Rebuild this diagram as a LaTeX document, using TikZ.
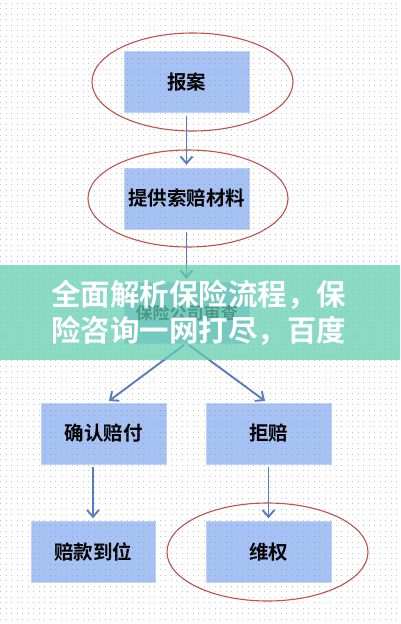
\documentclass[tikz,border=0pt]{standalone}
\usepackage{fontspec}
\newfontfamily\cjk{Noto Sans CJK SC}[BoldFont={Noto Sans CJK SC Bold}]
\usetikzlibrary{arrows.meta,positioning,shapes.geometric}
\definecolor{boxblue}{RGB}{166,194,245}
\definecolor{arrowblue}{RGB}{88,124,194}
\definecolor{ringred}{RGB}{192,80,77}
\definecolor{bannerteal}{RGB}{100,205,175}

\begin{document}
\begin{tikzpicture}[x=1pt,y=-1pt,
		stepbox/.style={draw=boxblue!70!white,fill=boxblue,minimum width=125pt,minimum height=61pt,inner sep=0pt,font=\cjk\bfseries\fontsize{19.5}{19.5}\selectfont},
		flow/.style={draw=arrowblue,line width=1.9pt,shorten <=3pt,shorten >=3pt,-{Straight Barb[length=7pt,width=12pt,line width=1.9pt]}},
		ring/.style={draw=ringred,line width=1.1pt}]
		\useasboundingbox (0,0) rectangle (400,624);
		% red rings
		\draw[ring] (192.5,82) ellipse [x radius=100.5, y radius=49];
		\draw[ring] (188,198.5) ellipse [x radius=100, y radius=48.5];
		\draw[ring] (267.5,552) ellipse [x radius=100.5, y radius=49];
		% steps
		\node[stepbox] (report) at (186.5,82) {报案};
		\node[stepbox] (papers) at (186.5,198.5) {提供索赔材料};
		\node[stepbox,font=\cjk\bfseries\fontsize{17}{17}\selectfont] (review) at (186.5,312.5) {保险公司审查};
		\node[stepbox] (confirm) at (103.5,433.5) {确认赔付};
		\node[stepbox] (refuse) at (268.5,433.5) {拒赔};
		\node[stepbox,minimum width=124pt] (paid) at (93,552) {赔款到位};
		\node[stepbox] (defend) at (268.5,552) {维权};
		% arrows
		\draw[flow] (report) -- (papers);
		\draw[flow] (papers) -- (review);
		\draw[flow] (review.south) -- ([xshift=3pt]confirm.north);
		\draw[flow] (review.south) -- ([xshift=-1pt]refuse.north);
		\draw[flow] (confirm.south -| paid.north) -- (paid.north);
		\draw[flow] (refuse) -- (defend);
		% dot grid
		\foreach \y in {3,8.5,...,624}
			\draw[gray,opacity=.45,line width=1pt,dash pattern=on 1pt off 4.5pt] (0,\y) -- (400,\y);
		% banner
		\fill[bannerteal,opacity=.75] (0,265) rectangle (400,360);
		\node[anchor=west,inner sep=0pt,text=white,font=\cjk\bfseries\fontsize{29.5}{29.5}\selectfont] (title1) at (51,295) {全面解析保险流程，保};
		\node[anchor=west,inner sep=0pt,text=white,font=\cjk\bfseries\fontsize{29.5}{29.5}\selectfont] (title2) at (51,331) {险咨询一网打尽，百度};
\end{tikzpicture}
\end{document}
